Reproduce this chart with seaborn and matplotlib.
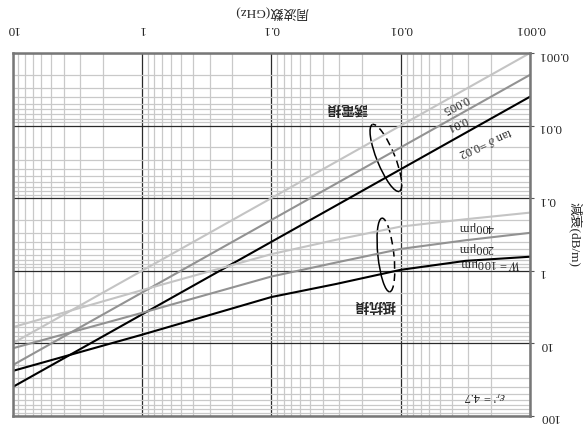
import numpy as np
import pandas as pd
import matplotlib
matplotlib.use("Agg")
import matplotlib.pyplot as plt
import matplotlib.ticker as mticker
from matplotlib.patches import Arc
from matplotlib.transforms import ScaledTranslation
import seaborn as sns

# --- values (frequency in GHz, loss in dB/m) ---
freq_line = [0.001, 10]
loss_tan_0005 = [0.001, 10]
loss_tan_001 = [0.002, 20]
loss_tan_002 = [0.004, 40]

freq_curve = [10, 1, 0.1, 0.0316, 0.01, 0.00316, 0.001]
loss_w100 = [24, 7.6, 2.3, 1.52, 0.97, 0.73, 0.64]
loss_w200 = [11.7, 3.8, 1.2, 0.77, 0.50, 0.38, 0.30]
loss_w400 = [6.0, 1.85, 0.59, 0.374, 0.246, 0.195, 0.158]

x_ticks = [10, 1, 0.1, 0.01, 0.001]
x_tick_labels = ['10', '1', '0.1', '0.01', '0.001']
y_ticks = [0.001, 0.01, 0.1, 1, 10, 100]
y_tick_labels = ['0.001', '0.01', '0.1', '1', '10', '100']

sns.set_style("white")
plt.rcParams['font.family'] = ['Liberation Serif', 'Noto Sans CJK JP']
plt.rcParams['mathtext.fontset'] = 'stix'

SERIF = ['Liberation Serif', 'Noto Sans CJK JP']
GOTHIC = ['Noto Sans CJK JP', 'DejaVu Sans']

fig = plt.figure(figsize=(5.84, 4.28), dpi=100)
ax = fig.add_axes([12.5 / 584, 1 - 416 / 428, 517.5 / 584, 363 / 428])
ax.set_xscale('log')
ax.set_yscale('log')

# --- grid ---
ax.xaxis.set_minor_locator(mticker.LogLocator(base=10, subs=np.arange(2, 10), numticks=20))
ax.yaxis.set_minor_locator(mticker.LogLocator(base=10, subs=np.arange(2, 10), numticks=20))
ax.xaxis.set_minor_formatter(mticker.NullFormatter())
ax.yaxis.set_minor_formatter(mticker.NullFormatter())
ax.set_axisbelow(True)
ax.grid(which='minor', color='#c9c9c9', lw=0.9)
ax.grid(which='major', color='#2a2a2a', lw=0.9)

# --- dielectric loss (straight lines) ---
black, mid, light = '#000000', '#929292', '#c4c4c4'
for vals, col in [(loss_tan_0005, light), (loss_tan_001, mid), (loss_tan_002, black)]:
    sns.lineplot(x=freq_line, y=vals, color=col, lw=1.5, ax=ax, sort=False, estimator=None)

# --- conductor loss (curves) ---
for vals, col in [(loss_w400, light), (loss_w200, mid), (loss_w100, black)]:
    sns.lineplot(x=freq_curve, y=vals, color=col, lw=1.5, ax=ax, sort=False, estimator=None)

# whole chart is shown rotated by 180 degrees
ax.set_xlim(10, 0.001)
ax.set_ylim(100, 0.001)

ax.xaxis.tick_top()
ax.xaxis.set_label_position('top')
ax.yaxis.tick_right()
ax.yaxis.set_label_position('right')
ax.set_xticks(x_ticks)
ax.set_xticklabels(x_tick_labels, rotation=180, fontsize=9.5, family=SERIF)
ax.set_yticks(y_ticks)
ax.set_yticklabels(y_tick_labels, rotation=180, fontsize=9.5, family=SERIF)
ax.tick_params(axis='x', which='both', length=0, pad=13)
ax.tick_params(axis='y', which='major', length=3, pad=3, color='#555555')
ax.tick_params(axis='y', which='minor', length=0)

ax.set_xlabel('周波数(GHz)', rotation=180, fontsize=9.5, family=SERIF, labelpad=5)
ax.set_ylabel('減衰(dB/m)', rotation=270, fontsize=9.5, family=SERIF, labelpad=5, va='center')

for sp in ax.spines.values():
    sp.set_color('#777777')
    sp.set_linewidth(1.8)

# --- annotations ---
ax.text(0.026, 0.0057, '誘電損', rotation=180, ha='center', va='center',
        fontsize=10, fontweight='bold', family=GOTHIC)
ax.text(0.0158, 2.96, '抵抗損', rotation=180, ha='center', va='center',
        fontsize=10, fontweight='bold', family=GOTHIC)
ax.text(0.00223, 0.0174, r'tan $\delta$ =0.02', rotation=204, ha='center', va='center',
        fontsize=9, family=SERIF)
ax.text(0.0037, 0.0092, '0.01', rotation=204, ha='center', va='center', fontsize=9, family=SERIF)
ax.text(0.0038, 0.005, '0.005', rotation=207, ha='center', va='center', fontsize=9, family=SERIF)
ax.text(0.002, 0.78, r'$W$ = 100μm', rotation=180, ha='center', va='center', fontsize=9, family=SERIF)
ax.text(0.00262, 0.485, '200μm', rotation=180, ha='center', va='center', fontsize=9, family=SERIF)
ax.text(0.00262, 0.25, '400μm', rotation=180, ha='center', va='center', fontsize=9, family=SERIF)
ax.text(0.00223, 53, r"$\varepsilon_r$' = 4.7", rotation=180, ha='center', va='center',
        fontsize=9, family=SERIF)


def ring(fc, lc, major, minor, angle):
    tr = fig.dpi_scale_trans + ScaledTranslation(fc, lc, ax.transData)
    ax.add_patch(Arc((0, 0), major, minor, angle=angle, theta1=0, theta2=180,
                     transform=tr, color='black', lw=1.1, clip_on=False))
    ax.add_patch(Arc((0, 0), major, minor, angle=angle, theta1=180, theta2=360,
                     transform=tr, color='black', lw=1.1, ls=(0, (5, 3)), clip_on=False))


ring(0.013, 0.0279, 0.72, 0.18, 112)
ring(0.013, 0.605, 0.74, 0.16, 96)

fig.savefig('out.png', dpi=100)
